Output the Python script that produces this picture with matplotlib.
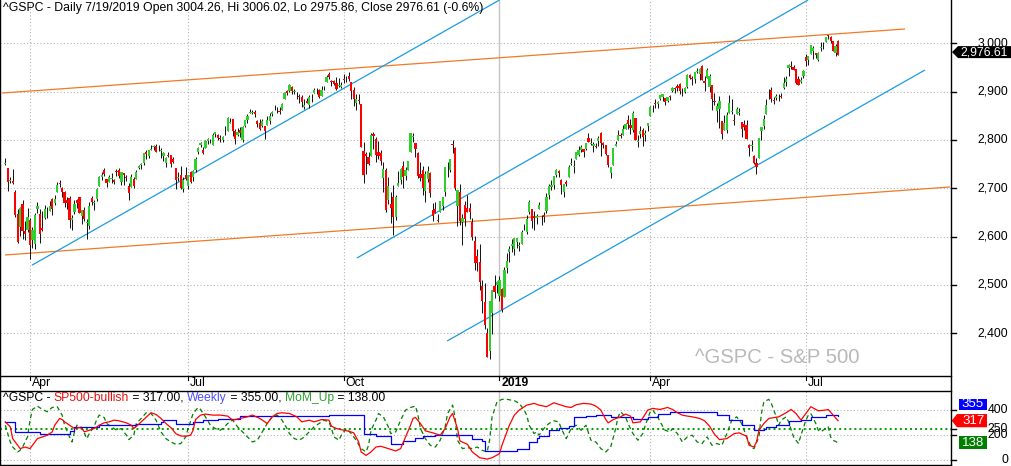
import numpy as np
import pandas as pd
import matplotlib
matplotlib.use('Agg')
import matplotlib.pyplot as plt
from matplotlib.lines import Line2D
from matplotlib.patches import Polygon

plt.rcParams['font.family'] = ['Liberation Sans', 'DejaVu Sans']

# ---------------- data: ^GSPC daily, 2018-03-16 .. 2019-07-19 ----------------
opens = [
 2750.6, 2741.4, 2715.1, 2714.9, 2691.4, 2646.7, 2619.4, 2667.6, 2611.3, 2614.4,
 2633.5, 2592.2, 2584.0, 2657.4, 2645.8, 2617.2, 2638.4, 2643.0, 2653.8, 2676.9, 2670.1, 2692.7, 2710.1, 2701.2, 2692.6, 2675.4, 2680.8, 2634.9, 2651.7, 2675.5, 2682.5,
 2642.9, 2654.2, 2628.1, 2621.5, 2680.3, 2670.3, 2678.1, 2705.0, 2722.7, 2738.4, 2718.6, 2712.6, 2719.7, 2717.4, 2735.4, 2738.3, 2713.9, 2730.9, 2723.6, 2705.1, 2702.4, 2720.1,
 2718.7, 2741.7, 2748.5, 2753.3, 2774.8, 2765.8, 2780.2, 2785.6, 2787.9, 2783.2, 2777.8, 2765.8, 2752.0, 2769.7, 2769.3, 2760.8, 2742.9, 2722.1, 2728.5, 2698.7, 2727.1,
 2705.0, 2733.3, 2724.2, 2737.7, 2775.6, 2788.6, 2779.8, 2783.1, 2796.9, 2797.4, 2789.3, 2811.4, 2809.4, 2804.6, 2799.2, 2820.7, 2817.7, 2835.5, 2842.4, 2819.0, 2809.7,
 2821.2, 2800.5, 2829.6, 2840.3, 2855.9, 2856.8, 2857.2, 2838.9, 2835.5, 2827.9, 2828.0, 2831.4, 2838.3, 2853.9, 2861.5, 2861.0, 2860.3, 2862.4, 2884.7, 2901.5, 2900.6, 2908.9, 2898.4,
 2897.0, 2891.6, 2888.6, 2868.3, 2881.4, 2871.6, 2888.3, 2896.9, 2906.4, 2903.8, 2890.7, 2906.6, 2919.7, 2936.8, 2921.8, 2921.8, 2917.0, 2911.7, 2910.0,
 2926.3, 2923.8, 2931.7, 2919.4, 2902.5, 2877.5, 2882.5, 2873.9, 2776.9, 2770.5, 2763.8, 2767.1, 2811.7, 2802.0, 2775.7, 2773.9, 2721.0, 2737.9, 2674.9, 2667.9, 2682.7, 2640.7, 2705.6,
 2717.6, 2745.5, 2726.4, 2738.4, 2774.1, 2806.4, 2794.1, 2773.9, 2730.1, 2737.9, 2693.5, 2718.5, 2730.7, 2654.6, 2657.7, 2633.4, 2650.0, 2663.8, 2691.5, 2737.0, 2737.8,
 2790.5, 2782.4, 2663.5, 2691.3, 2630.9, 2664.4, 2658.2, 2658.7, 2629.7, 2590.8, 2559.9, 2547.1, 2496.8, 2465.4, 2400.6, 2363.1, 2442.5, 2498.8, 2498.9,
 2477.0, 2491.9, 2474.3, 2535.6, 2568.1, 2580.0, 2573.5, 2588.1, 2580.3, 2585.1, 2614.8, 2609.3, 2651.3, 2657.9, 2643.5, 2638.8, 2657.4, 2644.0, 2644.9, 2653.6, 2685.5,
 2702.3, 2706.5, 2728.3, 2735.1, 2717.5, 2692.4, 2712.4, 2722.6, 2750.3, 2743.5, 2760.2, 2769.3, 2779.1, 2780.7, 2780.7, 2804.4, 2792.4, 2787.5, 2788.1,
 2798.2, 2814.4, 2794.4, 2790.3, 2768.7, 2730.8, 2747.6, 2787.3, 2799.8, 2810.4, 2810.8, 2822.6, 2840.8, 2831.3, 2819.7, 2844.5, 2796.0, 2812.7, 2819.7, 2809.4, 2828.3,
 2848.6, 2868.2, 2876.1, 2874.0, 2884.2, 2888.5, 2886.6, 2881.4, 2891.9, 2900.9, 2908.3, 2912.3, 2916.0, 2904.8, 2898.8, 2910.0, 2934.0, 2929.0, 2925.8, 2940.6, 2937.1,
 2952.3, 2922.2, 2929.2, 2908.9, 2913.0, 2879.6, 2859.8, 2863.1, 2840.2, 2820.1, 2820.4, 2855.8, 2858.6, 2841.9, 2854.0, 2856.1, 2836.7, 2832.4, 2830.0, 2790.3, 2786.9, 2766.2,
 2751.5, 2762.6, 2818.1, 2828.5, 2852.9, 2885.8, 2903.3, 2882.7, 2886.2, 2886.8, 2889.8, 2906.7, 2920.6, 2949.6, 2952.7, 2951.4, 2945.8, 2926.1, 2919.7, 2932.9,
 2971.4, 2964.7, 2978.1, 2984.3, 2979.8, 2965.5, 2989.3, 2999.6, 3003.4, 3017.8, 3012.1, 3005.1, 2978.9, 3004.26,
]
highs = [
 2761.9, 2741.4, 2724.2, 2739.1, 2695.7, 2657.7, 2661.4, 2674.8, 2632.7, 2659.1,
 2638.3, 2619.1, 2649.9, 2672.1, 2656.9, 2653.6, 2665.5, 2661.4, 2674.7, 2680.3, 2686.5, 2713.3, 2717.5, 2702.8, 2693.9, 2682.9, 2683.6, 2645.3, 2676.5, 2677.4, 2682.9,
 2655.3, 2660.9, 2637.1, 2670.9, 2683.4, 2676.3, 2701.3, 2726.1, 2732.9, 2742.1, 2718.6, 2727.8, 2731.0, 2719.5, 2739.2, 2742.2, 2733.3, 2731.9, 2727.4, 2710.7, 2729.3, 2722.5,
 2736.9, 2749.2, 2752.6, 2772.4, 2779.9, 2779.4, 2790.2, 2789.8, 2791.5, 2789.1, 2782.8, 2775.0, 2765.1, 2774.9, 2769.3, 2764.2, 2742.9, 2732.9, 2746.1, 2724.3, 2743.3,
 2727.3, 2736.6, 2737.8, 2764.4, 2784.7, 2795.6, 2785.9, 2799.2, 2804.5, 2801.2, 2814.2, 2816.8, 2812.1, 2809.7, 2808.6, 2829.0, 2848.0, 2845.6, 2843.2, 2821.7, 2824.5,
 2825.8, 2829.9, 2840.4, 2853.3, 2863.4, 2862.4, 2862.5, 2842.2, 2843.4, 2843.1, 2828.0, 2850.5, 2855.6, 2859.8, 2873.2, 2867.5, 2868.8, 2876.2, 2898.3, 2903.8, 2916.5, 2912.5, 2906.3,
 2900.2, 2894.2, 2892.1, 2883.8, 2886.9, 2892.5, 2894.7, 2906.8, 2908.3, 2904.6, 2911.2, 2912.4, 2934.8, 2940.9, 2923.8, 2923.9, 2931.2, 2927.2, 2920.5,
 2937.1, 2931.4, 2939.9, 2919.8, 2909.6, 2894.8, 2894.8, 2874.0, 2795.1, 2775.8, 2776.0, 2813.5, 2816.9, 2806.0, 2797.8, 2778.9, 2753.6, 2742.6, 2722.7, 2692.4, 2706.9, 2685.4, 2736.7,
 2741.7, 2756.6, 2744.3, 2756.8, 2815.2, 2814.8, 2794.1, 2776.0, 2754.6, 2746.8, 2735.4, 2746.8, 2733.2, 2669.4, 2670.7, 2647.6, 2674.4, 2682.5, 2744.0, 2753.8, 2760.9,
 2800.2, 2785.9, 2696.1, 2708.5, 2647.5, 2674.4, 2685.4, 2670.2, 2638.3, 2601.1, 2574.0, 2585.3, 2509.6, 2504.4, 2410.3, 2467.8, 2489.1, 2520.3, 2509.2,
 2519.5, 2493.1, 2538.1, 2566.2, 2579.8, 2595.3, 2597.8, 2596.3, 2589.3, 2613.1, 2625.8, 2645.1, 2675.5, 2657.9, 2653.2, 2647.2, 2672.4, 2644.0, 2650.9, 2690.4, 2708.0,
 2716.7, 2725.0, 2739.0, 2738.1, 2719.3, 2708.1, 2718.1, 2748.2, 2761.9, 2757.9, 2775.7, 2787.3, 2789.9, 2781.5, 2794.2, 2813.5, 2803.1, 2795.8, 2793.7,
 2808.0, 2816.9, 2796.4, 2790.3, 2769.0, 2744.1, 2784.0, 2798.3, 2821.2, 2815.0, 2830.7, 2835.4, 2852.4, 2843.5, 2860.3, 2846.2, 2809.8, 2829.9, 2825.6, 2819.7, 2836.0,
 2869.4, 2872.9, 2885.3, 2881.3, 2893.2, 2896.0, 2886.9, 2889.7, 2893.4, 2910.5, 2909.6, 2916.1, 2918.0, 2908.4, 2909.5, 2936.3, 2936.8, 2933.1, 2939.9, 2949.5, 2948.2,
 2954.1, 2931.7, 2947.9, 2937.3, 2913.0, 2898.0, 2876.0, 2891.3, 2840.2, 2852.5, 2858.7, 2892.2, 2885.5, 2853.9, 2868.9, 2865.5, 2836.7, 2841.4, 2840.5, 2792.0, 2799.0, 2769.0,
 2763.1, 2804.5, 2827.3, 2852.1, 2885.0, 2904.8, 2910.6, 2888.6, 2895.2, 2894.5, 2897.3, 2930.8, 2931.7, 2958.1, 2964.2, 2954.9, 2946.5, 2932.6, 2929.3, 2944.0,
 2977.9, 2973.2, 2995.8, 2994.0, 2980.8, 2981.9, 3003.0, 3002.3, 3013.9, 3017.8, 3015.0, 3005.3, 2998.3, 3006.02,
]
lows = [
 2749.0, 2694.6, 2710.1, 2709.8, 2641.6, 2585.9, 2601.8, 2596.1, 2593.1, 2609.7,
 2553.8, 2575.5, 2573.6, 2649.6, 2586.3, 2610.8, 2635.8, 2639.3, 2653.8, 2645.1, 2665.2, 2692.1, 2703.6, 2681.9, 2660.6, 2657.9, 2617.3, 2612.7, 2647.2, 2659.0, 2648.0,
 2625.4, 2631.7, 2594.6, 2615.3, 2664.7, 2655.2, 2674.1, 2704.5, 2717.5, 2725.5, 2701.9, 2712.2, 2711.4, 2709.2, 2725.7, 2721.9, 2707.1, 2707.4, 2714.9, 2676.8, 2702.4, 2700.7,
 2718.7, 2740.5, 2739.5, 2748.5, 2760.2, 2763.6, 2779.9, 2778.8, 2774.7, 2776.5, 2761.7, 2757.1, 2743.2, 2763.9, 2744.4, 2752.7, 2698.7, 2715.6, 2699.4, 2692.0, 2718.0,
 2699.0, 2711.2, 2716.0, 2733.5, 2770.7, 2786.2, 2770.8, 2783.1, 2791.7, 2793.4, 2789.2, 2805.9, 2799.8, 2795.1, 2795.1, 2811.1, 2817.7, 2835.3, 2808.3, 2791.5, 2808.1,
 2805.9, 2796.3, 2827.4, 2836.0, 2855.9, 2853.1, 2848.3, 2825.8, 2819.9, 2826.6, 2802.5, 2831.4, 2833.7, 2850.6, 2861.3, 2856.1, 2854.0, 2862.4, 2884.7, 2893.5, 2898.4, 2895.2, 2895.8,
 2885.1, 2876.9, 2867.3, 2864.1, 2875.9, 2866.8, 2879.2, 2896.4, 2895.8, 2886.2, 2890.4, 2903.8, 2919.7, 2927.1, 2912.6, 2913.7, 2903.3, 2909.3, 2907.5,
 2917.9, 2919.4, 2921.4, 2883.9, 2869.3, 2862.1, 2874.3, 2784.9, 2710.5, 2729.4, 2749.0, 2766.9, 2781.8, 2755.2, 2760.3, 2749.2, 2691.4, 2651.9, 2667.8, 2628.2, 2603.5, 2635.3, 2705.6,
 2708.9, 2700.4, 2717.9, 2737.1, 2774.1, 2795.0, 2764.2, 2722.0, 2715.0, 2685.8, 2670.8, 2712.2, 2681.1, 2631.5, 2649.8, 2631.1, 2650.0, 2655.9, 2684.4, 2722.9, 2732.8,
 2773.4, 2697.2, 2621.5, 2623.1, 2583.2, 2621.3, 2650.3, 2637.3, 2593.3, 2530.5, 2528.7, 2489.0, 2441.2, 2408.6, 2351.1, 2346.6, 2397.9, 2472.9, 2482.8,
 2467.5, 2444.0, 2474.3, 2524.6, 2547.6, 2568.9, 2562.0, 2577.4, 2570.4, 2585.1, 2612.7, 2606.4, 2647.6, 2617.3, 2612.9, 2627.0, 2657.3, 2624.1, 2631.1, 2648.3, 2678.7,
 2696.9, 2698.8, 2724.0, 2724.2, 2687.3, 2681.8, 2703.9, 2722.6, 2748.6, 2731.2, 2760.2, 2767.3, 2774.1, 2764.6, 2780.2, 2795.0, 2789.5, 2775.1, 2782.5,
 2787.4, 2767.7, 2783.0, 2768.7, 2743.7, 2722.3, 2747.6, 2786.7, 2799.8, 2803.5, 2810.8, 2822.0, 2823.3, 2812.4, 2817.4, 2800.5, 2785.0, 2804.0, 2787.7, 2798.8, 2819.2,
 2848.6, 2858.8, 2865.2, 2867.1, 2883.0, 2880.8, 2873.3, 2879.1, 2882.0, 2898.4, 2896.5, 2900.7, 2895.4, 2891.9, 2896.4, 2908.5, 2926.1, 2912.8, 2917.6, 2939.4, 2924.1,
 2923.4, 2900.5, 2929.2, 2898.2, 2862.6, 2873.3, 2836.4, 2825.4, 2801.4, 2820.1, 2815.1, 2855.8, 2854.2, 2831.3, 2854.0, 2851.1, 2805.5, 2820.2, 2801.6, 2766.1, 2776.7, 2750.5,
 2728.8, 2762.6, 2800.9, 2822.5, 2852.9, 2885.5, 2878.5, 2874.7, 2882.0, 2879.6, 2887.3, 2905.4, 2911.4, 2931.5, 2946.9, 2944.1, 2916.0, 2913.0, 2918.6, 2929.1,
 2952.2, 2955.9, 2978.0, 2968.0, 2970.1, 2963.4, 2984.6, 2988.8, 3001.9, 3008.8, 3001.2, 2984.3, 2973.1, 2975.86,
]
closes = [
 2752.0, 2712.9, 2716.9, 2711.9, 2643.7, 2588.3, 2658.6, 2612.6, 2605.0, 2640.9,
 2581.9, 2614.5, 2644.7, 2662.8, 2604.5, 2613.2, 2656.9, 2642.2, 2664.0, 2656.3, 2677.8, 2706.4, 2708.6, 2693.1, 2670.1, 2670.3, 2634.6, 2639.4, 2666.9, 2669.9, 2648.1,
 2654.8, 2635.7, 2629.7, 2663.4, 2672.6, 2671.9, 2697.8, 2723.1, 2727.7, 2730.1, 2711.5, 2722.5, 2720.1, 2713.0, 2733.0, 2724.4, 2733.3, 2727.8, 2721.3, 2689.9, 2724.0, 2705.3,
 2734.6, 2746.9, 2748.8, 2772.4, 2770.4, 2779.0, 2782.0, 2786.9, 2775.6, 2782.5, 2779.7, 2773.8, 2762.6, 2767.3, 2749.8, 2754.9, 2717.1, 2723.1, 2699.6, 2716.3, 2718.4,
 2726.7, 2713.2, 2736.6, 2759.8, 2784.2, 2793.8, 2774.0, 2798.3, 2801.3, 2798.4, 2809.6, 2815.6, 2804.5, 2801.8, 2807.0, 2820.4, 2846.1, 2837.4, 2818.8, 2802.6, 2816.3,
 2813.4, 2827.2, 2840.4, 2850.4, 2858.5, 2857.7, 2853.6, 2833.3, 2821.9, 2840.0, 2818.4, 2840.7, 2850.1, 2857.1, 2863.0, 2861.8, 2857.0, 2874.7, 2896.7, 2897.5, 2914.0, 2901.1, 2901.5,
 2896.7, 2888.6, 2878.1, 2871.7, 2877.1, 2887.9, 2888.9, 2904.2, 2905.0, 2888.8, 2904.3, 2908.0, 2930.8, 2929.7, 2919.4, 2915.6, 2906.0, 2914.0, 2914.0,
 2924.6, 2923.4, 2925.5, 2901.6, 2885.6, 2884.4, 2880.3, 2785.7, 2728.4, 2767.1, 2750.8, 2809.9, 2809.2, 2768.8, 2767.8, 2755.9, 2740.7, 2656.1, 2705.6, 2658.7, 2641.3, 2682.6, 2711.7,
 2740.4, 2723.1, 2738.3, 2755.5, 2813.9, 2806.8, 2781.0, 2726.2, 2722.2, 2701.6, 2730.2, 2736.3, 2690.7, 2641.9, 2649.9, 2632.6, 2673.5, 2682.2, 2743.8, 2737.8, 2760.2,
 2790.4, 2700.1, 2696.0, 2633.1, 2637.7, 2636.8, 2651.1, 2650.5, 2600.0, 2545.9, 2546.2, 2507.0, 2467.4, 2416.6, 2351.1, 2467.7, 2488.8, 2485.7, 2506.9,
 2510.0, 2447.9, 2531.9, 2549.7, 2574.4, 2585.0, 2596.6, 2596.3, 2582.6, 2610.3, 2616.1, 2636.0, 2670.7, 2632.9, 2638.7, 2642.3, 2664.8, 2643.9, 2640.0, 2681.1, 2704.1,
 2706.5, 2724.9, 2737.7, 2731.6, 2706.1, 2707.9, 2709.8, 2744.7, 2753.0, 2745.7, 2775.6, 2779.8, 2784.7, 2774.9, 2792.7, 2796.1, 2793.9, 2792.4, 2784.5,
 2803.7, 2792.8, 2789.7, 2771.5, 2748.9, 2743.1, 2783.3, 2791.5, 2810.9, 2808.5, 2822.5, 2832.9, 2832.6, 2824.2, 2854.9, 2800.7, 2798.4, 2818.5, 2805.4, 2815.4, 2834.4,
 2867.2, 2867.2, 2873.4, 2879.4, 2892.7, 2895.8, 2878.2, 2888.2, 2888.3, 2907.4, 2905.6, 2907.1, 2900.5, 2905.0, 2908.0, 2933.7, 2927.3, 2926.2, 2939.9, 2943.0, 2945.8,
 2923.7, 2917.5, 2945.6, 2932.5, 2884.1, 2879.4, 2870.7, 2881.4, 2811.9, 2834.4, 2851.0, 2876.3, 2859.5, 2840.2, 2864.4, 2856.3, 2822.2, 2826.1, 2802.4, 2783.0, 2788.9, 2752.1,
 2744.5, 2803.3, 2826.2, 2843.5, 2873.3, 2886.7, 2885.7, 2879.8, 2891.6, 2887.0, 2889.7, 2917.8, 2926.5, 2954.2, 2950.5, 2945.4, 2917.4, 2913.8, 2924.9, 2941.8,
 2964.3, 2973.0, 2995.8, 2990.4, 2976.0, 2979.6, 2993.1, 2999.9, 3013.8, 3014.3, 3004.0, 2984.4, 2995.1, 2976.61,
]

holidays = ['2018-03-30', '2018-05-28', '2018-07-04', '2018-09-03', '2018-11-22', '2018-12-05',
            '2018-12-25', '2019-01-01', '2019-01-21', '2019-02-18', '2019-04-19', '2019-05-27', '2019-07-04']

# indicator panel (bar index -> value)
red_bars = [0,2,3,5,6,8,10,11,13,15,17,19,20,22,23,24,26,28,30,31,32,34,36,38,40,42,44,46,49,51,
            52,54,56,58,59,61,63,65,67,69,71,73,75,76,77,79,81,84,87,90,92,95,98,100,103,106,108,110,112,115,
            118,120,123,125,128,131,132,134,137,139,141,143,144,146,148,150,152,155,158,160,162,164,165,166,168,170,173,176,178,180,
            181,183,184,187,189,192,195,197,200,
            201,204,206,208,211,214,216,219,222,224,227,229,231,234,237,239,241,243,244,246,
            249,251,253,254,257,260,262,265,268,270,272,274,276,278,281,283,285,287,289,292,
            295,297,300,301,303,304,305,307,309,313,316,318,320,322,324,326,329,332,333,335,337]
red_vals = [307,267,171,117,90,103,90,117,171,185,199,226,280,335,326,307,280,253,261,253,
            226,239,253,280,299,307,321,316,299,280,253,288,326,362,381,367,335,294,261,212,
            193,190,199,239,326,362,370,362,362,354,321,335,348,362,335,294,348,375,381,375,
            348,307,321,307,326,321,272,253,239,231,218,144,63,35,63,103,109,90,71,90,
            185,280,335,343,294,234,218,199,253,348,375,253,152,125,63,16,5,16,49,
            117,280,362,403,443,457,443,430,462,449,430,424,446,457,452,435,403,326,299,326,
            348,370,354,299,307,403,416,408,424,408,381,362,354,348,335,316,272,207,163,171,
            212,218,190,117,103,144,239,294,335,348,381,408,375,321,375,430,397,403,408,362,317]

blue_bars = [0,4,14,26,28,38,53,63,64,69,76,80,86,95,131,145,150,156,161,166,
             169,174,179,189,193,194,207,212,215,216,220,224,228,230,235,239,245,254,260,264,
             269,288,293,298,303,307,308,312,317,322,326,332,337]
blue_vals = [305,224,211,230,265,278,292,305,319,292,305,320,332,351,362,211,192,130,149,176,
             192,197,203,170,149,68,84,143,176,192,238,257,273,346,354,365,346,327,346,367,
             391,359,319,284,238,251,265,278,311,319,346,359,355]

green_bars = [0,1,2,3,5,6,7,9,10,11,13,15,17,18,19,21,23,24,26,27,28,29,31,33,34,36,37,38,40,41,
              43,45,47,49,50,52,53,55,57,59,61,63,65,67,69,71,73,74,76,78,79,81,83,85,87,88,90,92,94,96,
              98,100,102,104,106,108,110,112,114,115,117,119,121,123,125,127,129,131,132,133,
              135,136,138,140,142,144,146,147,148,150,151,153,155,156,158,160,162,164,166,167,
              168,170,172,174,176,178,179,181,182,183,185,187,189,191,193,195,196,197,199,201,
              203,206,208,210,211,212,214,215,216,218,220,222,224,225,227,228,229,231,233,235,
              237,239,241,243,245,247,248,249,251,252,254,256,258,259,261,262,264,265,267,269,
              270,272,274,276,278,280,282,284,286,288,290,292,294,296,298,300,302,303,305,306,
              307,309,310,312,313,314,316,317,319,321,322,324,325,326,328,329,330,332,333,334,335,337]
green_vals = [280,212,144,103,63,76,103,185,321,408,435,408,389,408,424,430,362,280,185,144,
              226,280,261,171,212,272,326,362,343,294,267,239,253,199,163,199,294,335,381,375,
              321,226,171,144,125,131,185,253,375,424,408,348,280,253,239,253,294,321,267,226,
              185,144,158,226,294,348,362,321,253,212,171,158,185,226,267,294,321,307,253,185,
              158,199,253,212,158,90,63,117,239,321,375,348,267,212,226,321,403,424,435,362,
              253,171,117,103,158,267,375,443,348,158,90,98,90,103,76,63,158,348,470,490,
              490,479,457,403,362,280,212,226,199,253,294,316,307,253,171,212,253,280,239,280,
              158,144,90,63,103,253,348,389,348,294,212,158,212,280,389,403,348,307,239,226,
              253,212,144,185,199,144,131,185,117,131,117,212,321,348,294,185,98,90,185,375,
              470,490,457,348,280,321,348,307,185,131,199,321,362,375,294,239,226,253,267,185,158,138]

# trend lines drawn on the chart: (bar index, price) endpoints
orange_lines = [((-1.3, 2897.1), (364.1, 3029.6)),
                ((-0.1, 2562.0), (382.3, 2702.7))]
blue_lines = [((10.8, 2540.9), (200.0, 3089.6)),
              ((142.3, 2555.8), (324.9, 3089.6)),
              ((178.8, 2384.0), (372.2, 2944.8))]

price_ticks = [2400, 2500, 2600, 2700, 2800, 2900, 3000]
ind_ticks = [0, 200, 250, 400]
bull_level = 250

# ---------------- build ----------------
n = min(len(opens), len(highs), len(lows), len(closes))
o = np.array(opens[:n]); h = np.array(highs[:n]); l = np.array(lows[:n]); c = np.array(closes[:n])
days = pd.bdate_range('2018-03-16', '2019-07-19')
days = days[~days.isin(pd.to_datetime(holidays))][:n]
idx = np.arange(n)

def rb(a, b):
    m = min(len(a), len(b)); return list(a[:m]), list(b[:m])
red_bars, red_vals = rb(red_bars, red_vals)
blue_bars, blue_vals = rb(blue_bars, blue_vals)
green_bars, green_vals = rb(green_bars, green_vals)

W, H = 1012, 466
fig = plt.figure(figsize=(W / 100, H / 100), dpi=100)
fig.patch.set_facecolor('white')

def fx(px): return px / W
def fy(py): return 1 - py / H

X_RIGHT = 951.5
MAIN_BOT = 375.5
STRIP_BOT = 391.0
x_lo = -5.3 / 2.471
x_hi = (X_RIGHT - 5.3) / 2.471

ax = fig.add_axes([0, fy(MAIN_BOT), fx(X_RIGHT), MAIN_BOT / H])
axl = fig.add_axes([0, 0, fx(X_RIGHT), (H - STRIP_BOT) / H])
for a in (ax, axl):
    a.set_xlim(x_lo, x_hi)
    a.axis('off')
ax.set_ylim(3000 - (MAIN_BOT - 43.3) / 0.4833, 3000 + 43.3 / 0.4833)
axl.set_ylim(-(H - 459.7) / 0.1232, (459.7 - STRIP_BOT) / 0.1232)

# quarter ticks
tick_idx, tick_lab = [], []
for i in range(1, n):
    if days[i].month != days[i - 1].month and days[i].month in (1, 4, 7, 10):
        tick_idx.append(i)
        tick_lab.append(str(days[i].year) if days[i].month == 1 else days[i].strftime('%b'))

grid_kw = dict(color='#b4b4b4', lw=0.8, ls=(0, (1, 2)), zorder=0)
for a in (ax, axl):
    for ti, tl in zip(tick_idx, tick_lab):
        if tl.isdigit():
            a.axvline(ti, color='#c4c4c4', lw=1.0, zorder=0)
        else:
            a.axvline(ti, **grid_kw)
for v in price_ticks:
    ax.axhline(v, **grid_kw)
for v in (0, 200, 400):
    axl.axhline(v, **grid_kw)

# watermark
fig.text(fx(695), fy(357.5), '^GSPC - S&P 500', color='#b9b9b9', fontsize=14.6, va='center', ha='left')

# trend lines
for (x0, y0), (x1, y1) in orange_lines:
    ax.plot([x0, x1], [y0, y1], color='#f07a26', lw=0.9, zorder=1, solid_capstyle='butt')
for (x0, y0), (x1, y1) in blue_lines:
    ax.plot([x0, x1], [y0, y1], color='#1c9be3', lw=0.9, zorder=1, solid_capstyle='butt')

# candles
ax.vlines(idx, l, h, color='black', lw=0.65, zorder=2)
up = c >= o
body_h = np.maximum(np.abs(c - o), 1.0)
ax.bar(idx, body_h, bottom=np.minimum(o, c), width=0.9,
       color=np.where(up, '#2ed02e', '#ff0000'), linewidth=0, zorder=3)

# indicator lines
axl.axhline(bull_level, color='#00a000', lw=1.4, ls=(0, (1, 1.6)), zorder=1)
axl.plot(green_bars, green_vals, color='#008000', lw=0.9, ls=(0, (3.5, 2.5)), zorder=2)
axl.step(blue_bars, blue_vals, where='post', color='#0000ff', lw=0.9, zorder=3)
axl.plot(red_bars, red_vals, color='#ff0000', lw=0.9, zorder=4)

# frame lines
def hline(y, x0=0, x1=X_RIGHT, lw=1.0, color='black'):
    fig.add_artist(Line2D([fx(x0), fx(x1)], [fy(y), fy(y)], color=color, lw=lw))
def vline(x, y0, y1, lw=1.0, color='black'):
    fig.add_artist(Line2D([fx(x), fx(x)], [fy(y0), fy(y1)], color=color, lw=lw))
hline(MAIN_BOT)
hline(STRIP_BOT)
hline(H - 1.0)
vline(X_RIGHT, 0, H)
vline(0.5, 0, H)

FS = 8.8
# date strip
for ti, tl in zip(tick_idx, tick_lab):
    xp = ax.transData.transform((ti, 0))[0]
    vline(xp, MAIN_BOT, MAIN_BOT + 4.5, lw=0.8)
    fig.text(fx(xp + 2), fy(383.2), tl, fontsize=FS, va='center', ha='left',
             fontweight='bold' if tl.isdigit() else 'normal')

# right axis labels
def ypix(a, v):
    return H - a.transData.transform((0, v))[1]
for v in price_ticks:
    yp = ypix(ax, v)
    hline(yp, X_RIGHT, X_RIGHT + 5)
    fig.text(fx(1008), fy(yp), f'{v:,}', fontsize=FS, va='center', ha='right')
for v in ind_ticks:
    yp = ypix(axl, v)
    hline(yp, X_RIGHT, X_RIGHT + 5)
    fig.text(fx(1008), fy(yp), f'{v}', fontsize=FS, va='center', ha='right')

# last close marker
yc = ypix(ax, c[-1]) - 2.5
hh = 6.0
fig.add_artist(Polygon([(fx(952), fy(yc)), (fx(958), fy(yc - hh)), (fx(1012), fy(yc - hh)),
                        (fx(1012), fy(yc + hh)), (fx(958), fy(yc + hh))],
                       closed=True, facecolor='black', edgecolor='none'))
fig.text(fx(984), fy(yc), f'{c[-1]:,.2f}', fontsize=FS, color='white', va='center', ha='center')

# indicator value boxes
def vbox(x0, x1, ycen, half, color, label, arrow=False):
    if arrow:
        pts = [(951.7, ycen), (957, ycen - half), (x1, ycen - half), (x1, ycen + half), (957, ycen + half)]
    else:
        pts = [(x0, ycen - half), (x1, ycen - half), (x1, ycen + half), (x0, ycen + half)]
    fig.add_artist(Polygon([(fx(a), fy(b)) for a, b in pts], closed=True, facecolor=color, edgecolor='none'))
    fig.text(fx((x0 + x1) / 2 + (2 if arrow else 0)), fy(ycen), label, fontsize=9.5, color='white',
             va='center', ha='center')
vbox(959, 987, 404.3, 5.5, '#0000ff', f'{blue_vals[-1]}')
vbox(957, 987, ypix(axl, red_vals[-1]), 6.6, '#ff0000', f'{red_vals[-1]}', arrow=True)
vbox(959, 987, ypix(axl, green_vals[-1]), 6.8, '#008000', f'{green_vals[-1]}')

# headers
renderer = fig.canvas.get_renderer()
def tw(s, fs):
    t = fig.text(0, 0, s + '|', fontsize=fs)
    w1 = t.get_window_extent(renderer).width
    t.set_text('|')
    w2 = t.get_window_extent(renderer).width
    t.remove()
    return w1 - w2
def chain(x, y, parts, fs):
    for s, col in parts:
        fig.text(fx(x), fy(y), s, color=col, fontsize=fs, va='center', ha='left')
        x += tw(s, fs)

pct = (c[-1] / c[-2] - 1) * 100
hdr = (f'^GSPC - Daily {days[-1].month}/{days[-1].day}/{days[-1].year} Open {o[-1]:.2f}, '
       f'Hi {h[-1]:.2f}, Lo {l[-1]:.2f}, Close {c[-1]:.2f} ({pct:.1f}%)')
fig.text(fx(3), fy(8.2), hdr, fontsize=8.8, va='center', ha='left')

chain(3, 398, [('^GSPC - ', 'black'), ('SP500-bullish', '#e81010'),
               (f' = {red_vals[-1]:.2f}, ', 'black'), ('Weekly', '#5050ff'),
               (f' = {blue_vals[-1]:.2f}, ', 'black'), ('MoM_Up', '#2ea02e'),
               (f' = {green_vals[-1]:.2f}', 'black')], 8.7)

fig.savefig('out.png', dpi=100, facecolor='white')
